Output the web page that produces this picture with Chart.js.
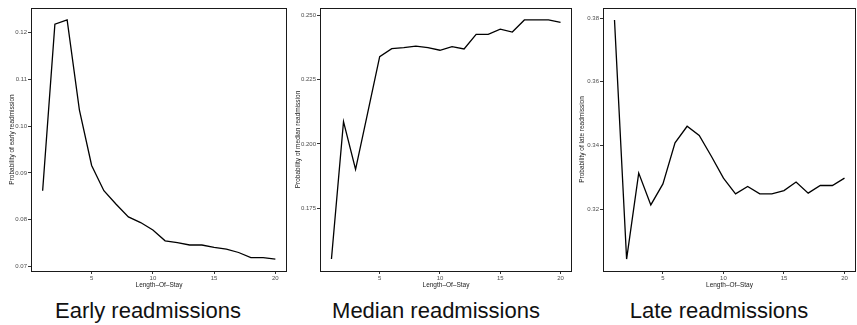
<!DOCTYPE html>
<html>
<head>
<meta charset="utf-8">
<script src="https://cdn.jsdelivr.net/npm/chart.js@4/dist/chart.umd.min.js"></script>
<style>
  html, body { margin: 0; padding: 0; background: #fff; }
  #page { position: relative; width: 857px; height: 325px; overflow: hidden; }
  canvas { position: absolute; top: 0; }
  .caption {
    position: absolute; top: 300px; width: 280px; margin-left: -140px;
    text-align: center; font-family: "Liberation Sans", Arial, sans-serif;
    font-size: 22px; line-height: 22px; color: #111; white-space: nowrap;
  }
</style>
</head>
<body>
<div id="page">
  <canvas id="earlyChart" width="290" height="295" style="left:0px"></canvas>
  <canvas id="medianChart" width="285" height="295" style="left:290px"></canvas>
  <canvas id="lateChart" width="282" height="295" style="left:575px"></canvas>
  <div class="caption" style="left:148px">Early readmissions</div>
  <div class="caption" style="left:436px">Median readmissions</div>
  <div class="caption" style="left:719px">Late readmissions</div>
</div>
<script>
// --------------------------------------
// Data
// --------------------------------------
const lengthOfStay = [1, 2, 3, 4, 5, 6, 7, 8, 9, 10, 11, 12, 13, 14, 15, 16, 17, 18, 19, 20];

const earlyProb = [0.0862, 0.1218, 0.1227, 0.1035, 0.0916, 0.0862, 0.0833, 0.0806, 0.0794, 0.0778,
                   0.0755, 0.0751, 0.0746, 0.0746, 0.0741, 0.0737, 0.0730, 0.0719, 0.0719, 0.0716];
const medianProb = [0.1552, 0.2087, 0.1901, 0.2120, 0.2340, 0.2371, 0.2375, 0.2381, 0.2375, 0.2365,
                    0.2379, 0.2370, 0.2427, 0.2427, 0.2447, 0.2436, 0.2483, 0.2483, 0.2483, 0.2474];
const lateProb = [0.3794, 0.3043, 0.3313, 0.3213, 0.3279, 0.3408, 0.3460, 0.3431, 0.3366, 0.3297,
                  0.3248, 0.3271, 0.3248, 0.3248, 0.3258, 0.3285, 0.3250, 0.3274, 0.3274, 0.3297];

const xTickValues = [5, 10, 15, 20];
const xTickLabels = ['5', '10', '15', '20'];

const earlyTickValues = [0.07, 0.08, 0.09, 0.10, 0.11, 0.12];
const earlyTickLabels = ['0.07', '0.08', '0.09', '0.10', '0.11', '0.12'];
const medianTickValues = [0.175, 0.200, 0.225, 0.250];
const medianTickLabels = ['0.175', '0.200', '0.225', '0.250'];
const lateTickValues = [0.32, 0.34, 0.36, 0.38];
const lateTickLabels = ['0.32', '0.34', '0.36', '0.38'];

const xTitle = 'Length\u2013Of\u2013Stay';

// --------------------------------------
// Helpers
// --------------------------------------
const FONT = '"Liberation Sans", Arial, sans-serif';

// ggplot-style 5% expansion of a continuous range
function expanded(values) {
    const lo = Math.min(...values), hi = Math.max(...values);
    const pad = (hi - lo) * 0.05;
    return { min: lo - pad, max: hi + pad };
}

const panelBox = {
    id: 'panelBox',
    afterDraw(chart) {
        const { ctx, chartArea: a } = chart;
        ctx.save();
        ctx.strokeStyle = '#1a1a1a';
        ctx.lineWidth = 1;
        ctx.strokeRect(Math.round(a.left) + 0.5, Math.round(a.top) + 0.5,
                       Math.round(a.right - a.left) - 1, Math.round(a.bottom - a.top));
        ctx.restore();
    }
};

function makePanel(canvasId, series, yTickValues, yTickLabels, yTitle, yAxisWidth, rightPad, titlePad) {
    const xr = { min: lengthOfStay[0] - 0.95, max: lengthOfStay[lengthOfStay.length - 1] + 0.95 };
    const yr = expanded(series);
    const tickGrid = { drawOnChartArea: false, drawTicks: true, tickLength: 3, color: '#333', lineWidth: 1 };

    return new Chart(document.getElementById(canvasId), {
        type: 'line',
        data: {
            datasets: [{
                data: lengthOfStay.map((x, i) => ({ x, y: series[i] })),
                borderColor: '#000',
                borderWidth: 1.3,
                pointRadius: 0,
                tension: 0,
                fill: false
            }]
        },
        options: {
            responsive: false,
            animation: false,
            layout: { padding: { top: 8, right: rightPad, left: 0, bottom: 0 } },
            plugins: { legend: { display: false }, tooltip: { enabled: false } },
            scales: {
                x: {
                    type: 'linear',
                    min: xr.min, max: xr.max,
                    border: { display: false },
                    grid: tickGrid,
                    afterBuildTicks: s => { s.ticks = xTickValues.map(v => ({ value: v })); },
                    afterFit: s => { s.height = 24; },
                    ticks: {
                        font: { family: FONT, size: 6 }, color: '#4d4d4d', padding: 1,
                        maxRotation: 0, autoSkip: false,
                        callback: v => xTickLabels[xTickValues.indexOf(v)]
                    },
                    title: {
                        display: true, text: xTitle, color: '#1a1a1a',
                        font: { family: FONT, size: 6.5 }, padding: { top: 0, bottom: 6 }
                    }
                },
                y: {
                    type: 'linear',
                    min: yr.min, max: yr.max,
                    border: { display: false },
                    grid: tickGrid,
                    afterBuildTicks: s => { s.ticks = yTickValues.map(v => ({ value: v })); },
                    afterFit: s => { s.width = yAxisWidth; },
                    ticks: {
                        font: { family: FONT, size: 6 }, color: '#4d4d4d', padding: 1,
                        autoSkip: false,
                        callback: v => yTickLabels[yTickValues.findIndex(t => Math.abs(t - v) < 1e-9)]
                    },
                    title: {
                        display: true, text: yTitle, color: '#1a1a1a',
                        font: { family: FONT, size: 6.5 }, padding: { top: titlePad, bottom: 0 }
                    }
                }
            }
        },
        plugins: [panelBox]
    });
}

window.addEventListener('load', () => {
    makePanel('earlyChart', earlyProb, earlyTickValues, earlyTickLabels,
              'Probability of early readmission', 31, 3, 8);
    makePanel('medianChart', medianProb, medianTickValues, medianTickLabels,
              'Probability of median readmission', 30, 3, 4.5);
    makePanel('lateChart', lateProb, lateTickValues, lateTickLabels,
              'Probability of late readmission', 28, 1, 3.5);
});
</script>
</body>
</html>
